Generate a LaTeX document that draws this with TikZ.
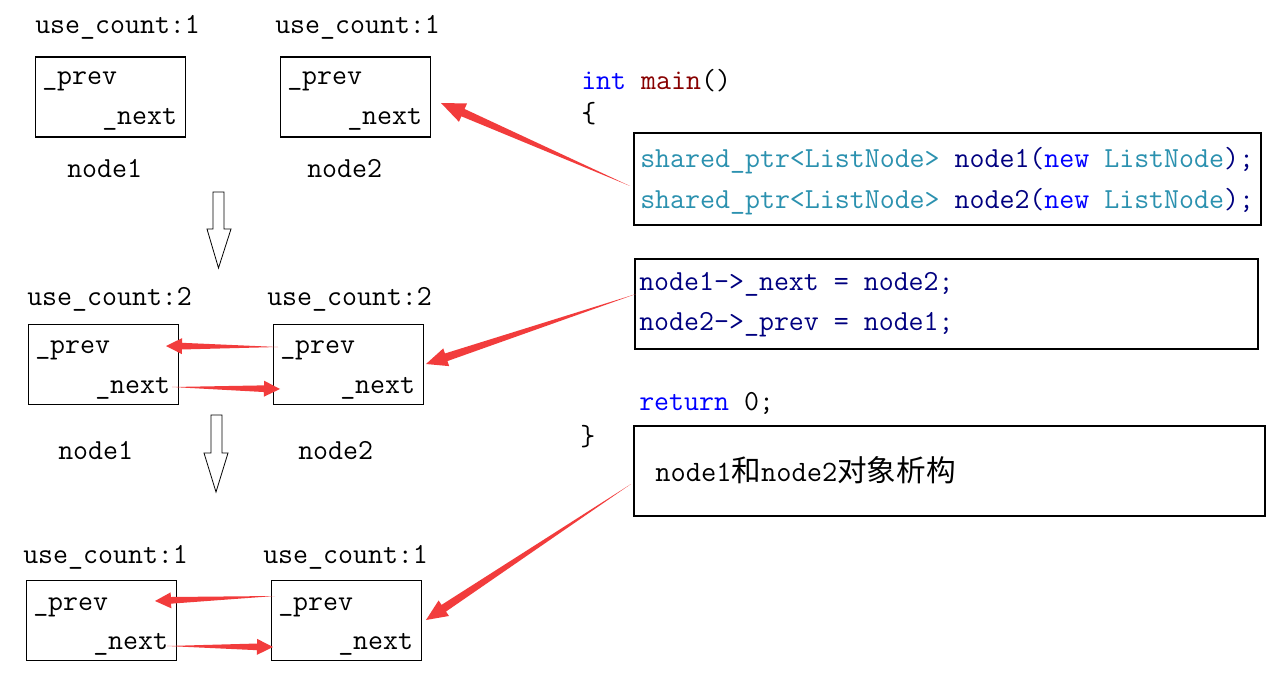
\documentclass[tikz,border=0pt]{standalone}
\usepackage{fontspec}
\newfontfamily\cjk{Noto Sans CJK SC}
\usetikzlibrary{calc}
\definecolor{redc}{RGB}{242,60,60}
\definecolor{kw}{RGB}{0,0,255}
\definecolor{fn}{RGB}{136,0,0}
\definecolor{ty}{RGB}{43,145,175}
\definecolor{var}{RGB}{0,0,128}
\newcommand\taperarrow[5]{%
  \coordinate (tb) at ($(#2)!#3!(#1)$);
  \fill[redc] (#1) -- ($(tb)!#5!90:(#2)$) -- ($(tb)!#4!90:(#2)$) -- (#2)
    -- ($(tb)!#4!-90:(#2)$) -- ($(tb)!#5!-90:(#2)$) -- cycle;}
\tikzset{
  txt/.style={anchor=base west, inner sep=0pt, font=\ttfamily\fontsize{21.8}{26}\selectfont},
  bigtxt/.style={anchor=base west, inner sep=0pt, font=\ttfamily\fontsize{22.2}{27}\selectfont},
  nodebox/.style={draw, line width=0.8pt, inner sep=0pt, minimum width=112.5pt, minimum height=60pt},
  codebox/.style={draw, line width=0.8pt, inner sep=0pt},
  hollow/.style={draw, fill=white, line width=0.6pt, line join=miter}
}
\begin{document}
\begin{tikzpicture}[x=0.75pt, y=-0.75pt]
\useasboundingbox (0,0) rectangle (1273,695);
\fill[white] (0,0) rectangle (1273,695);

% ---- row 1
\node[txt] (uc1a) at (35,34) {use\_count:1};
\node[txt] (uc1b) at (275,34) {use\_count:1};
\node[nodebox] (b1a) at (110.5,97) {};
\node[nodebox] (b1b) at (355.5,97) {};
\node[txt] (p1a) at (42,85) {\_prev};
\node[txt] (x1a) at (102,125) {\_next};
\node[txt] (p1b) at (287,85) {\_prev};
\node[txt] (x1b) at (347,125) {\_next};
\node[txt] (l1a) at (67,178) {node1};
\node[txt] (l1b) at (307,178) {node2};

% ---- row 2
\node[txt] (uc2a) at (27,305) {use\_count:2};
\node[txt] (uc2b) at (267,305) {use\_count:2};
\node[nodebox] (b2a) at (103.3,364.8) {};
\node[nodebox] (b2b) at (348.3,364.8) {};
\node[txt] (p2a) at (35,353) {\_prev};
\node[txt] (x2a) at (95,393) {\_next};
\node[txt] (p2b) at (280,353) {\_prev};
\node[txt] (x2b) at (340,393) {\_next};
\node[txt] (l2a) at (58,459) {node1};
\node[txt] (l2b) at (298,459) {node2};

% ---- row 3
\node[txt] (uc3a) at (23,563) {use\_count:1};
\node[txt] (uc3b) at (263,563) {use\_count:1};
\node[nodebox] (b3a) at (101.3,620.8) {};
\node[nodebox] (b3b) at (346.5,620.8) {};
\node[txt] (p3a) at (33,610) {\_prev};
\node[txt] (x3a) at (93,649) {\_next};
\node[txt] (p3b) at (278,610) {\_prev};
\node[txt] (x3b) at (338,649) {\_next};

% ---- hollow down arrows
\draw[hollow] (213,192) -- (224,192) -- (224,229) -- (231,229) -- (218.5,268)
  -- (207,229) -- (213,229) -- cycle;
\draw[hollow] (211,415) -- (222,415) -- (222,453) -- (228,453) -- (216,492)
  -- (204,453) -- (211,453) -- cycle;

% ---- code
\node[txt] (c0) at (581,90) {\color{kw}int \color{fn}main\color{black}()};
\node[txt] (c1) at (581,123) {\{};
\node[codebox, minimum width=470.25pt, minimum height=69pt] (cb1) at (947.5,179) {};
\node[txt] (c2) at (640,168) {\color{ty}shared\_ptr<ListNode> \color{var}node1(\color{kw}new \color{ty}ListNode\color{var});};
\node[txt] (c3) at (640,209) {\color{ty}shared\_ptr<ListNode> \color{var}node2(\color{kw}new \color{ty}ListNode\color{var});};
\node[codebox, minimum width=467.25pt, minimum height=67.5pt] (cb2) at (946.5,304) {};
\node[txt] (c4) at (639,290) {\color{var}node1->\_next = node2;};
\node[txt] (c5) at (639,330) {\color{var}node2->\_prev = node1;};
\node[txt] (c6) at (639,410) {\color{kw}return \color{black}0;};
\node[txt] (c7) at (580,445) {\}};
\node[codebox, minimum width=473.25pt, minimum height=67.5pt] (cb3) at (949.5,471) {};
\node[bigtxt] (c8) at (655,481) {node1{\cjk 和}node2{\cjk 对象析构}};

% ---- red arrows between nodes
\coordinate (r2pT) at (278,347); \coordinate (r2pP) at (166,346);
\coordinate (r2nT) at (172,387); \coordinate (r2nP) at (280,389);
\coordinate (r3pT) at (275,596); \coordinate (r3pP) at (155,601);
\coordinate (r3nT) at (167,646); \coordinate (r3nP) at (273,647);
\taperarrow{r2pT}{r2pP}{12pt}{6pt}{2.5pt}
\taperarrow{r2nT}{r2nP}{12pt}{6pt}{2.5pt}
\taperarrow{r3pT}{r3pP}{12pt}{6pt}{2.5pt}
\taperarrow{r3nT}{r3nP}{12pt}{6pt}{2.5pt}

% ---- callout arrows
\coordinate (k1T) at (630,186); \coordinate (k1P) at (441,103);
\coordinate (k2T) at (636,294); \coordinate (k2P) at (426,364);
\coordinate (k3T) at (631,484); \coordinate (k3P) at (426,620);
\taperarrow{k1T}{k1P}{18pt}{7.5pt}{3pt}
\taperarrow{k2T}{k2P}{16pt}{7pt}{3pt}
\taperarrow{k3T}{k3P}{16pt}{7pt}{3pt}
\end{tikzpicture}
\end{document}
